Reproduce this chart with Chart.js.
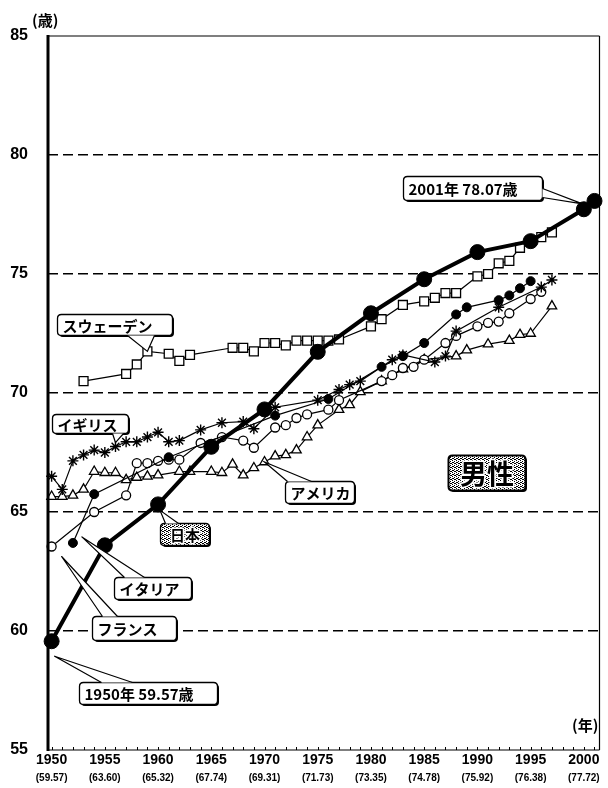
<!DOCTYPE html>
<html>
<head>
<meta charset="utf-8">
<script src="https://cdn.jsdelivr.net/npm/chart.js@4.4.1/dist/chart.umd.min.js"></script>
<style>
html, body { margin: 0; padding: 0; background: #fff; }
</style>
</head>
<body>
<canvas id="chart" width="608" height="788"></canvas>
<script>
// 男性の平均寿命の推移（日本と主要国）

const tickYears = [1950, 1955, 1960, 1965, 1970, 1975, 1980, 1985, 1990, 1995, 2000];
const japanTickLabels = ['(59.57)', '(63.60)', '(65.32)', '(67.74)', '(69.31)', '(71.73)', '(73.35)', '(74.78)', '(75.92)', '(76.38)', '(77.72)'];

const japanYears = [1950, 1955, 1960, 1965, 1970, 1975, 1980, 1985, 1990, 1995, 2000, 2001];
const japanValues = [59.57, 63.60, 65.32, 67.74, 69.31, 71.73, 73.35, 74.78, 75.92, 76.38, 77.72, 78.07];

const swedenYears = [1953, 1957, 1958, 1959, 1961, 1962, 1963, 1967, 1968, 1969, 1970, 1971, 1972, 1973, 1974, 1975, 1976, 1977, 1980, 1981, 1983, 1985, 1986, 1987, 1988, 1990, 1991, 1992, 1993, 1994, 1996, 1997];
const swedenValues = [70.5, 70.8, 71.2, 71.75, 71.65, 71.35, 71.6, 71.9, 71.9, 71.75, 72.1, 72.1, 72.0, 72.2, 72.2, 72.2, 72.2, 72.25, 72.8, 73.1, 73.7, 73.85, 74.0, 74.2, 74.2, 74.9, 75.0, 75.45, 75.55, 76.1, 76.55, 76.75];

const ukYears = [1950, 1951, 1952, 1953, 1954, 1955, 1956, 1957, 1958, 1959, 1960, 1961, 1962, 1964, 1966, 1968, 1969, 1971, 1975, 1977, 1978, 1979, 1982, 1983, 1986, 1987, 1988, 1992, 1996, 1997];
const ukValues = [66.5, 65.95, 67.15, 67.4, 67.6, 67.5, 67.75, 67.95, 67.95, 68.15, 68.35, 67.95, 68.0, 68.45, 68.75, 68.8, 68.5, 69.4, 69.7, 70.15, 70.35, 70.5, 71.4, 71.6, 71.3, 71.55, 72.6, 73.6, 74.45, 74.75];

const italyYears = [1952, 1954, 1961, 1971, 1976, 1981, 1983, 1985, 1988, 1989, 1992, 1993, 1994, 1995];
const italyValues = [63.7, 65.75, 67.3, 69.05, 69.75, 71.1, 71.55, 72.1, 73.3, 73.6, 73.9, 74.1, 74.4, 74.7];

const franceYears = [1950, 1954, 1957, 1958, 1959, 1960, 1961, 1962, 1964, 1966, 1968, 1969, 1971, 1972, 1973, 1974, 1976, 1977, 1981, 1982, 1983, 1984, 1985, 1987, 1988, 1990, 1991, 1992, 1993, 1995, 1996];
const franceValues = [63.55, 65.0, 65.7, 67.05, 67.05, 67.15, 67.2, 67.2, 67.9, 68.15, 68.0, 67.7, 68.55, 68.65, 68.95, 69.1, 69.3, 69.7, 70.5, 70.75, 71.05, 71.1, 71.4, 72.1, 72.4, 72.8, 72.95, 73.0, 73.35, 73.95, 74.25];

const usaYears = [1950, 1951, 1952, 1953, 1954, 1955, 1956, 1957, 1958, 1959, 1960, 1962, 1963, 1965, 1966, 1967, 1968, 1969, 1970, 1971, 1972, 1973, 1974, 1975, 1977, 1978, 1979, 1981, 1983, 1985, 1988, 1989, 1991, 1993, 1994, 1995, 1997];
const usaValues = [65.65, 65.65, 65.7, 65.95, 66.7, 66.65, 66.65, 66.35, 66.45, 66.5, 66.55, 66.7, 66.7, 66.7, 66.65, 67.0, 66.55, 66.85, 67.1, 67.35, 67.4, 67.6, 68.15, 68.65, 69.3, 69.5, 70.05, 70.5, 71.0, 71.4, 71.55, 71.8, 72.05, 72.2, 72.45, 72.5, 73.65];

const series = {
    japan: { years: japanYears, values: japanValues },
    sweden: { years: swedenYears, values: swedenValues },
    uk: { years: ukYears, values: ukValues },
    italy: { years: italyYears, values: italyValues },
    france: { years: franceYears, values: franceValues },
    usa: { years: usaYears, values: usaValues }
};

function points(name) {
    const s = series[name];
    return s.years.map((x, i) => ({ x: x, y: s.values[i] }));
}

// 吹き出し（位置はデータ座標、大きさはピクセル）
const callouts = [
    { text: 'スウェーデン', at: [1955.92, 72.87], w: 115, h: 21, side: 'bottom', base: [70, 97], anchor: ['sweden', 1959], off: [0, 0] },
    { text: 'イギリス', at: [1953.56, 68.72], w: 76, h: 19, side: 'bottom', base: [60, 71], anchor: ['uk', 1956], off: [0, -4] },
    { text: 'アメリカ', at: [1975.14, 65.86], w: 69, h: 22, side: 'top', base: [2, 26], anchor: ['usa', 1970], off: [0, 0] },
    { text: '日本', at: [1962.52, 64.06], w: 49, h: 22, side: 'top', base: [5, 18], anchor: ['japan', 1960], off: [2, 6], shade: true },
    { text: 'イタリア', at: [1959.45, 61.79], w: 77, h: 22, side: 'top', base: [10, 30], anchor: ['italy', 1952], off: [9, -6] },
    { text: 'フランス', at: [1957.73, 60.12], w: 84, h: 24, side: 'top', base: [10, 25], anchor: ['france', 1950], off: [10, 10] },
    { text: '1950年 59.57歳', at: [1959.03, 57.39], w: 138, h: 22, side: 'top', base: [22, 53], anchor: ['japan', 1950], off: [3, 15] },
    { text: '2001年 78.07歳', at: [1989.53, 78.62], w: 139, h: 24, side: 'right', base: [12, 21], anchor: ['japan', 2001], off: [-12, 3] },
    { text: '男性', at: [1990.83, 66.68], w: 77, h: 35, shade: true, big: true }
];

const jpFont = '"Noto Sans CJK JP", "Noto Sans", sans-serif';
const numFont = '"Liberation Sans", Arial, sans-serif';

// 網かけ用パターン
const patCanvas = document.createElement('canvas');
patCanvas.width = 4; patCanvas.height = 4;
const pctx = patCanvas.getContext('2d');
pctx.fillStyle = '#fff';
pctx.fillRect(0, 0, 4, 4);
pctx.fillStyle = '#000';
[[0, 0], [2, 1], [1, 2], [3, 3], [2, 3], [0, 2]].forEach(p => pctx.fillRect(p[0], p[1], 1, 1));

function roundRect(ctx, x, y, w, h, r) {
    ctx.beginPath();
    ctx.moveTo(x + r, y);
    ctx.lineTo(x + w - r, y);
    ctx.quadraticCurveTo(x + w, y, x + w, y + r);
    ctx.lineTo(x + w, y + h - r);
    ctx.quadraticCurveTo(x + w, y + h, x + w - r, y + h);
    ctx.lineTo(x + r, y + h);
    ctx.quadraticCurveTo(x, y + h, x, y + h - r);
    ctx.lineTo(x, y + r);
    ctx.quadraticCurveTo(x, y, x + r, y);
    ctx.closePath();
}

const framePlugin = {
    id: 'frame',
    afterDatasetsDraw(chart) {
        const ctx = chart.ctx;
        const a = chart.chartArea;
        const xs = chart.scales.x;
        ctx.save();
        ctx.strokeStyle = '#000';
        ctx.lineWidth = 1.2;
        ctx.beginPath();
        ctx.moveTo(a.left, a.top); ctx.lineTo(a.right, a.top);
        ctx.moveTo(a.right, a.top); ctx.lineTo(a.right, a.bottom);
        ctx.moveTo(a.left, a.bottom); ctx.lineTo(a.right, a.bottom);
        ctx.stroke();
        ctx.lineWidth = 3;
        ctx.beginPath();
        ctx.moveTo(a.left, a.top - 1); ctx.lineTo(a.left, a.bottom + 1);
        ctx.stroke();
        // 年ごとの小目盛り
        ctx.lineWidth = 1;
        ctx.beginPath();
        for (let yr = 1950; yr <= 2001; yr++) {
            const px = Math.round(xs.getPixelForValue(yr)) + 0.5;
            ctx.moveTo(px, a.bottom);
            ctx.lineTo(px, a.bottom - 3);
        }
        ctx.stroke();
        ctx.restore();
    },
    afterDraw(chart) {
        const ctx = chart.ctx;
        const xs = chart.scales.x, ys = chart.scales.y;
        ctx.save();
        ctx.fillStyle = '#000';
        ctx.font = 'bold 15px ' + jpFont;
        ctx.textBaseline = 'middle';
        ctx.textAlign = 'left';
        ctx.fillText('(歳)', 32, 20);
        ctx.fillText('(年)', 572, 725);

        callouts.forEach(c => {
            const cx = xs.getPixelForValue(c.at[0]);
            const cy = ys.getPixelForValue(c.at[1]);
            const x0 = Math.round(cx - c.w / 2) + 0.5;
            const y0 = Math.round(cy - c.h / 2) + 0.5;
            ctx.fillStyle = '#000';
            roundRect(ctx, x0 + 1.5, y0 + 1.5, c.w, c.h, 4);
            ctx.fill();
            roundRect(ctx, x0, y0, c.w, c.h, 4);
            ctx.fillStyle = c.shade ? ctx.createPattern(patCanvas, 'repeat') : '#fff';
            ctx.fill();
            ctx.strokeStyle = '#000';
            ctx.lineWidth = c.big ? 2 : 1.3;
            ctx.stroke();

            if (c.anchor) {
                const s = series[c.anchor[0]];
                const v = s.values[s.years.indexOf(c.anchor[1])];
                const ax = xs.getPixelForValue(c.anchor[1]) + c.off[0];
                const ay = ys.getPixelForValue(v) + c.off[1];
                let b1, b2;
                if (c.side === 'top') {
                    b1 = [x0 + c.base[0], y0]; b2 = [x0 + c.base[1], y0];
                } else if (c.side === 'bottom') {
                    b1 = [x0 + c.base[0], y0 + c.h]; b2 = [x0 + c.base[1], y0 + c.h];
                } else {
                    b1 = [x0 + c.w, y0 + c.base[0]]; b2 = [x0 + c.w, y0 + c.base[1]];
                }
                ctx.beginPath();
                ctx.moveTo(b1[0], b1[1]); ctx.lineTo(ax, ay); ctx.lineTo(b2[0], b2[1]);
                ctx.closePath();
                ctx.fillStyle = '#fff';
                ctx.fill();
                ctx.beginPath();
                ctx.moveTo(b1[0], b1[1]); ctx.lineTo(ax, ay); ctx.lineTo(b2[0], b2[1]);
                ctx.lineWidth = 1.2;
                ctx.strokeStyle = '#000';
                ctx.stroke();
            }

            ctx.font = (c.big ? 'bold 27px ' : 'bold 15px ') + jpFont;
            ctx.textBaseline = 'middle';
            let tx;
            if (c.shade) {
                ctx.textAlign = 'center';
                tx = x0 + c.w / 2;
            } else {
                ctx.textAlign = 'left';
                tx = x0 + 5;
            }
            const ty = y0 + c.h / 2 + 1;
            if (c.shade) {
                ctx.strokeStyle = '#fff';
                ctx.lineWidth = 3;
                ctx.lineJoin = 'round';
                ctx.strokeText(c.text, tx, ty);
            }
            ctx.fillStyle = '#000';
            ctx.fillText(c.text, tx, ty);
        });
        ctx.restore();
    }
};

const lineBase = { borderColor: '#000', tension: 0, clip: false, pointBorderColor: '#000' };

new Chart(document.getElementById('chart'), {
    type: 'line',
    data: {
        datasets: [
            Object.assign({}, lineBase, { label: '日本', data: points('japan'), borderWidth: 4, pointStyle: 'circle', pointRadius: 7.5, pointBackgroundColor: '#000', pointBorderWidth: 1 }),
            Object.assign({}, lineBase, { label: 'イタリア', data: points('italy'), borderWidth: 1.2, pointStyle: 'circle', pointRadius: 4.5, pointBackgroundColor: '#000', pointBorderWidth: 1 }),
            Object.assign({}, lineBase, { label: 'イギリス', data: points('uk'), borderWidth: 1.2, pointStyle: 'star', pointRadius: 5.5, pointBackgroundColor: '#fff', pointBorderWidth: 1.4 }),
            Object.assign({}, lineBase, { label: 'フランス', data: points('france'), borderWidth: 1.2, pointStyle: 'circle', pointRadius: 4.5, pointBackgroundColor: '#fff', pointBorderWidth: 1.3 }),
            Object.assign({}, lineBase, { label: 'アメリカ', data: points('usa'), borderWidth: 1.2, pointStyle: 'triangle', pointRadius: 5.5, pointBackgroundColor: '#fff', pointBorderWidth: 1.3 }),
            Object.assign({}, lineBase, { label: 'スウェーデン', data: points('sweden'), borderWidth: 1.2, pointStyle: 'rect', pointRadius: 6.3, pointBackgroundColor: '#fff', pointBorderWidth: 1.3 })
        ]
    },
    options: {
        responsive: false,
        animation: false,
        events: [],
        layout: { padding: { top: 36, right: 2, left: 0, bottom: 0 } },
        plugins: {
            legend: { display: false },
            tooltip: { enabled: false }
        },
        scales: {
            x: {
                type: 'linear',
                position: 'bottom',
                weight: 0,
                min: 1949.66,
                max: 2001.47,
                afterBuildTicks: axis => { axis.ticks = tickYears.map(v => ({ value: v })); },
                afterFit: axis => { axis.height = 18; },
                grid: { display: false, drawTicks: false },
                border: { display: false },
                ticks: {
                    autoSkip: false,
                    maxRotation: 0,
                    padding: 2,
                    color: '#000',
                    font: { family: numFont, size: 14, weight: 'bold' },
                    callback: v => String(v)
                }
            },
            x2: {
                type: 'linear',
                position: 'bottom',
                weight: 1,
                min: 1949.66,
                max: 2001.47,
                afterBuildTicks: axis => { axis.ticks = tickYears.map(v => ({ value: v })); },
                afterFit: axis => { axis.height = 20; },
                grid: { display: false, drawTicks: false },
                border: { display: false },
                ticks: {
                    autoSkip: false,
                    maxRotation: 0,
                    padding: 4,
                    color: '#000',
                    font: { family: numFont, size: 10, weight: 'bold' },
                    callback: (v, i) => japanTickLabels[i]
                }
            },
            y: {
                min: 55,
                max: 85,
                afterFit: axis => { axis.width = 48; },
                border: { display: false, dash: [10, 5] },
                grid: {
                    drawTicks: false,
                    lineWidth: 1.6,
                    color: c => (c.tick && (c.tick.value === 55 || c.tick.value === 85)) ? 'rgba(0,0,0,0)' : '#000'
                },
                ticks: {
                    stepSize: 5,
                    padding: 20,
                    color: '#000',
                    font: { family: numFont, size: 16, weight: 'bold' }
                }
            }
        }
    },
    plugins: [framePlugin]
});
</script>
</body>
</html>
